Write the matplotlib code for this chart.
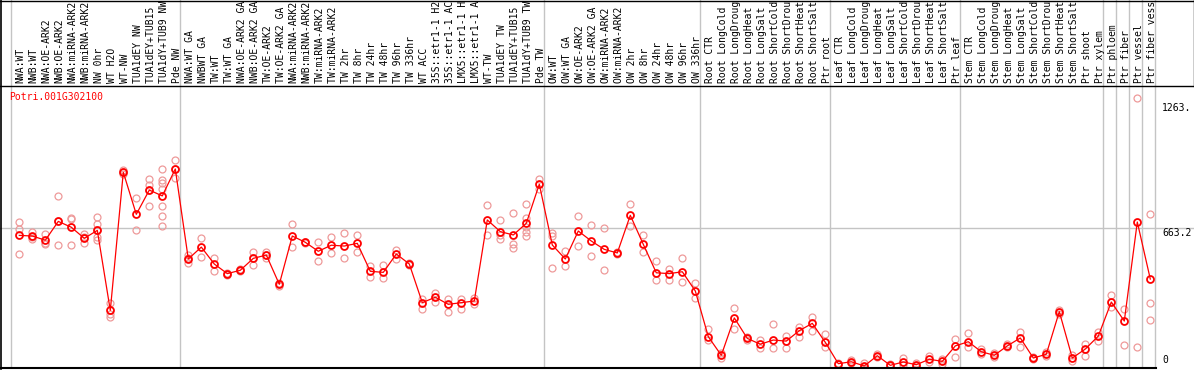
import matplotlib
matplotlib.use("Agg")
import matplotlib.pyplot as plt
from matplotlib.lines import Line2D
from matplotlib.transforms import blended_transform_factory

# sample names, in plot order
labels = [
    "NWA:WT", "NWB:WT", "NWA:OE-ARK2", "NWB:OE-ARK2", "NWA:miRNA-ARK2", "NWB:miRNA-ARK2",
    "NW 0hr", "WT H2O", "WT-NW", "TUA1dEY NW", "TUA1dEY+TUB15 NW", "TUA1dY+TUB9 NW", "Pde NW",
    "NWA:WT GA", "NWBWT GA", "TW:WT", "TW:WT GA", "NWA:OE-ARK2 GA", "NWB:OE-ARK2 GA",
    "TW:OE-ARK2", "TW:OE-ARK2 GA", "NWA:miRNA-ARK2 GA", "NWB:miRNA-ARK2 GA", "TW:miRNA-ARK2",
    "TW:miRNA-ARK2 GA", "TW 2hr", "TW 8hr", "TW 24hr", "TW 48hr", "TW 96hr", "TW 336hr",
    "WT ACC", "35S::etr1-1 H2O", "35S::etr1-1 ACC", "LMX5::etr1-1 H2O", "LMX5::etr1-1 ACC",
    "WT-TW", "TUA1dEY TW", "TUA1dEY+TUB15 TW", "TUA1dY+TUB9 TW", "Pde TW",
    "OW:WT", "OW:WT GA", "OW:OE-ARK2", "OW:OE-ARK2 GA", "OW:miRNA-ARK2", "OW:miRNA-ARK2 GA",
    "OW 2hr", "OW 8hr", "OW 24hr", "OW 48hr", "OW 96hr", "OW 336hr",
    "Root CTR", "Root LongCold", "Root LongDrought", "Root LongHeat", "Root LongSalt",
    "Root ShortCold", "Root ShortDrought", "Root ShortHeat", "Root ShortSalt", "Ptr root",
    "Leaf CTR", "Leaf LongCold", "Leaf LongDrought", "Leaf LongHeat", "Leaf LongSalt",
    "Leaf ShortCold", "Leaf ShortDrought", "Leaf ShortHeat", "Leaf ShortSalt", "Ptr leaf",
    "Stem CTR", "Stem LongCold", "Stem LongDrought", "Stem LongHeat", "Stem LongSalt",
    "Stem ShortCold", "Stem ShortDrought", "Stem ShortHeat", "Stem ShortSalt", "Ptr shoot",
    "Ptr xylem", "Ptr phloem", "Ptr fiber", "Ptr vessel", "Ptr fiber vessel",
]

# mean expression per sample
means = [
    630, 627, 607, 697, 669, 616, 654, 271, 932, 731, 847, 819, 948,
    517, 574, 493, 447, 463, 520, 536, 396, 627, 597, 554, 583, 579, 592, 458, 453,
    541, 493, 308, 334, 300, 308, 316, 704, 648, 632, 688, 875,
    584, 517, 651, 603, 563, 546, 726, 587, 451, 447, 456, 364,
    145, 56, 235, 137, 109, 129, 124, 174, 209, 118,
    16, 25, 5, 54, 8, 24, 11, 37, 27, 101,
    121, 73, 56, 101, 139, 43, 61, 265, 43, 86,
    148, 311, 220, 694, 421,
]

# replicate values per sample
reps = [
    [694, 659, 541], [648, 624, 611], [637, 592, 587], [817, 697, 584], [713, 708, 584],
    [637, 624, 592], [719, 683, 656, 624, 608], [305, 254, 241], [943, 932, 926], [808, 656],
    [900, 871, 847, 769], [948, 894, 881, 851, 772, 723, 675], [991, 948, 903],
    [534, 521, 496], [618, 528], [523, 460], [447, 442, 452], [464, 460, 467],
    [549, 487, 522], [549, 536, 522], [401, 388], [683, 573], [600, 592], [600, 506],
    [621, 544], [640, 520], [632, 552], [485, 429], [488, 427], [560, 517], [499, 488],
    [324, 276], [356, 313], [324, 265], [324, 276], [332, 300], [774, 632],
    [702, 613, 632], [736, 589, 568], [780, 715, 672, 648, 627], [899, 851],
    [640, 629, 474], [555, 483], [723, 579], [680, 531], [667, 463], [550, 541],
    [780, 675], [632, 549], [506, 415], [469, 415], [522, 407], [402, 329],
    [180, 129], [66, 45], [281, 182], [145, 129], [129, 92], [204, 92], [148, 90],
    [190, 145], [239, 172], [158, 94],
    [21, 13], [34, 21], [18, 1], [61, 49], [14, 3], [45, 8], [18, 5], [54, 25], [37, 14],
    [133, 48],
    [161, 97], [85, 61], [66, 49], [110, 94], [168, 94], [49, 37], [73, 53], [273, 254],
    [57, 30], [110, 54],
    [169, 126], [345, 289], [276, 104], [1286, 94], [731, 305, 225],
]

# index of the first sample of each group (gray separators), last one closes the plot
group_starts = [0, 13, 41, 53, 63, 73, 84, 85, 86, 87, 88]

gene = "Potri.001G302100"
tick_values = [1263, 663.2, 0]
tick_labels = ["1263.", "663.2", "0"]

W, H = 1194, 370
red = "#ff0000"
pink = "#ee9a9a"
gray = "#c4c4c4"
mono = "DejaVu Sans Mono"
max_chars = 14  # header only has room for this many characters

fig = plt.figure(figsize=(W / 100, H / 100), dpi=100)
head = fig.add_axes([0, (H - 85) / H, 1, 85 / H])
ax = fig.add_axes([0, 2 / H, 1, 283 / H])

xlim = (-19.3 / 13, (W - 19.3) / 13)
for a in (head, ax):
    a.set_xlim(*xlim)
    a.set_axis_off()
    for g in group_starts:
        a.axvline(g - 8 / 13, color=gray, lw=1.0, zorder=0)
head.set_ylim(0, 1)
ax.set_ylim(-1 / 0.2089, 282 / 0.2089)

# sample names in the header
ht = blended_transform_factory(head.transData, head.transAxes)
for i, lab in enumerate(labels):
    head.text(i + 0.12, 0.025, lab[:max_chars], rotation=90, ha="center", va="bottom",
              fontsize=7, family=mono, transform=ht)

# reference line
ax.axhline(tick_values[1], color=gray, lw=1.0, zorder=0)

# replicates then means
for i, r in enumerate(reps):
    ax.plot([i] * len(r), r, "o", ms=5, mfc="none", mec=pink, mew=0.9, zorder=2)
ax.plot(range(len(means)), means, "-", color=red, lw=0.9, marker="o", ms=5,
        mfc="none", mec=red, mew=1.3, zorder=3)

ax.text(9.5 / W, 0.975, gene, color=red, fontsize=7, family=mono,
        ha="left", va="top", transform=ax.transAxes)

yt = blended_transform_factory(ax.transAxes, ax.transData)
for v, t in zip(tick_values, tick_labels):
    if v == 0:
        ax.text(1162 / W, 9, t, fontsize=7, family=mono, ha="left", va="bottom", transform=yt)
    else:
        ax.text(1162 / W, v, t, fontsize=7, family=mono, ha="left", va="top", transform=yt)

# black frame lines, in pixels
def px_line(x0, y0, x1, y1, lw):
    fig.add_artist(Line2D([x0 / W, x1 / W], [1 - y0 / H, 1 - y1 / H], color="black",
                          lw=lw, transform=fig.transFigure))

px_line(0, 0.5, W, 0.5, 1.0)
px_line(0, 85.5, W, 85.5, 1.0)
px_line(W - 0.5, 0, W - 0.5, 86, 1.0)
px_line(1, 0, 1, 369, 1.2)
px_line(0, 368, 1156, 368, 1.5)

fig.savefig("out.png", dpi=100)
